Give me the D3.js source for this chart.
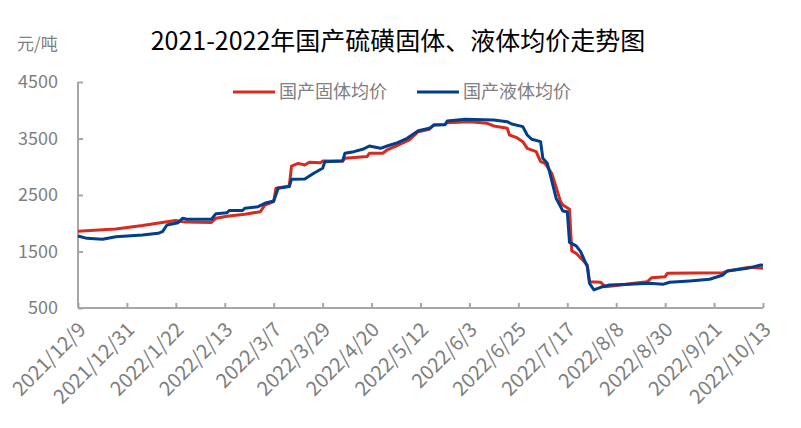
<!DOCTYPE html>
<html>
<head>
<meta charset="utf-8">
<script src="https://cdn.jsdelivr.net/npm/d3@7"></script>
<style>
  body { margin: 0; background: #fff; }
  svg { display: block; }
  text { font-family: "Noto Sans CJK SC", "Noto Sans", sans-serif; }
</style>
</head>
<body>
<svg id="chart" width="801" height="428"></svg>
<script>
const titleText = "2021-2022年国产硫磺固体、液体均价走势图";
const unitText = "元/吨";
const seriesNames = ["国产固体均价", "国产液体均价"];
const seriesColors = ["#d62b1f", "#023f8b"];

const xTickLabels = ["2021/12/9","2021/12/31","2022/1/22","2022/2/13","2022/3/7","2022/3/29","2022/4/20","2022/5/12","2022/6/3","2022/6/25","2022/7/17","2022/8/8","2022/8/30","2022/9/21","2022/10/13"];
const yTicks = [500, 1500, 2500, 3500, 4500];

// 国产固体均价 (solid)
const solidDates = ["2021-12-09","2021-12-22","2021-12-26","2022-01-07","2022-01-18","2022-01-22","2022-01-26","2022-02-07","2022-02-09","2022-02-14","2022-02-22","2022-03-01","2022-03-03","2022-03-07","2022-03-08","2022-03-14","2022-03-15","2022-03-18","2022-03-21","2022-03-23","2022-03-28","2022-03-29","2022-04-07","2022-04-08","2022-04-18","2022-04-19","2022-04-25","2022-04-27","2022-05-01","2022-05-07","2022-05-11","2022-05-16","2022-05-18","2022-05-23","2022-05-24","2022-06-03","2022-06-11","2022-06-14","2022-06-20","2022-06-21","2022-06-24","2022-06-27","2022-06-29","2022-07-03","2022-07-05","2022-07-07","2022-07-10","2022-07-14","2022-07-15","2022-07-18","2022-07-19","2022-07-21","2022-07-26","2022-07-27","2022-08-01","2022-08-03","2022-08-10","2022-08-16","2022-08-22","2022-08-24","2022-08-30","2022-08-31","2022-09-25","2022-09-27","2022-10-07","2022-10-13"];
const solidValues = [1860,1890,1900,1960,2025,2050,2020,2015,2090,2125,2160,2205,2320,2385,2620,2660,3010,3060,3030,3078,3072,3100,3100,3150,3180,3238,3238,3297,3367,3474,3621,3663,3739,3750,3780,3798,3769,3721,3680,3562,3521,3444,3326,3267,3090,3061,2884,2382,2323,2247,1510,1468,1260,966,955,878,907,937,966,1037,1055,1114,1125,1155,1220,1202];

// 国产液体均价 (liquid)
const liquidDates = ["2021-12-09","2021-12-13","2021-12-20","2021-12-26","2022-01-07","2022-01-14","2022-01-16","2022-01-18","2022-01-23","2022-01-25","2022-01-27","2022-02-07","2022-02-09","2022-02-14","2022-02-15","2022-02-21","2022-02-22","2022-02-28","2022-03-03","2022-03-07","2022-03-09","2022-03-14","2022-03-15","2022-03-21","2022-03-25","2022-03-29","2022-03-30","2022-04-07","2022-04-08","2022-04-12","2022-04-16","2022-04-19","2022-04-24","2022-04-27","2022-05-01","2022-05-06","2022-05-11","2022-05-16","2022-05-18","2022-05-23","2022-05-24","2022-06-01","2022-06-14","2022-06-20","2022-06-22","2022-06-27","2022-06-29","2022-07-01","2022-07-05","2022-07-06","2022-07-08","2022-07-09","2022-07-12","2022-07-14","2022-07-15","2022-07-17","2022-07-18","2022-07-21","2022-07-23","2022-07-24","2022-07-26","2022-07-27","2022-07-29","2022-08-01","2022-08-05","2022-08-14","2022-08-23","2022-08-29","2022-09-01","2022-09-10","2022-09-19","2022-09-25","2022-09-27","2022-10-06","2022-10-12","2022-10-13"];
const liquidValues = [1774,1733,1716,1762,1792,1822,1851,1969,2010,2087,2070,2070,2170,2187,2225,2225,2265,2293,2353,2394,2619,2648,2778,2783,2884,2973,3090,3102,3238,3267,3309,3367,3326,3367,3415,3503,3638,3680,3739,3745,3810,3840,3828,3798,3757,3710,3562,3486,3444,3150,3061,2913,2441,2293,2217,2205,1660,1600,1497,1408,1231,937,819,866,907,919,937,919,955,978,1008,1084,1155,1202,1261,1255];

const parse = d3.timeParse("%Y-%m-%d");
const parseTick = d3.timeParse("%Y/%m/%d");

const svg = d3.select("#chart");

const x = d3.scaleTime()
  .domain([parse("2021-12-09"), parse("2022-10-13")])
  .range([78, 763]);
const y = d3.scaleLinear().domain([500, 4500]).range([308, 82]);

const axisColor = "#a6a6a6";
const labelColor = "#808080";

// Title
svg.append("text")
  .attr("x", 398).attr("y", 50)
  .attr("text-anchor", "middle")
  .attr("font-size", 25)
  .attr("fill", "#000")
  .text(titleText);

// Unit
svg.append("text")
  .attr("x", 17).attr("y", 50)
  .attr("font-size", 17)
  .attr("fill", labelColor)
  .text(unitText);

// Y axis
const yAxis = svg.append("g")
  .attr("transform", "translate(78,0)")
  .call(d3.axisRight(y).tickValues(yTicks).tickSize(5).tickFormat(""));
yAxis.select(".domain").attr("stroke", axisColor).attr("stroke-width", 2)
  .attr("d", `M0,${y(4500)}V${y(500)}`);
yAxis.selectAll(".tick line").attr("stroke", axisColor).attr("stroke-width", 2);

svg.append("g").selectAll("text").data(yTicks).join("text")
  .attr("x", 58).attr("y", d => y(d))
  .attr("dy", "0.35em")
  .attr("text-anchor", "end")
  .attr("font-size", 18)
  .attr("fill", labelColor)
  .text(d => d);

// X axis
const tickDates = xTickLabels.map(s => parseTick(s));
const xAxis = svg.append("g")
  .attr("transform", "translate(0,308)")
  .call(d3.axisTop(x).tickValues(tickDates).tickSize(5).tickFormat(""));
xAxis.select(".domain").attr("stroke", axisColor).attr("stroke-width", 2)
  .attr("d", `M${x.range()[0]},0H${x.range()[1]}`);
xAxis.selectAll(".tick line").attr("stroke", axisColor).attr("stroke-width", 2);

svg.append("g").selectAll("text").data(xTickLabels).join("text")
  .attr("transform", (d) => `translate(${x(parseTick(d)) + 9},${331}) rotate(-45)`)
  .attr("text-anchor", "end")
  .attr("font-size", 20)
  .attr("fill", labelColor)
  .text(d => d);

// Lines
const line = d3.line().x(d => x(d.date)).y(d => y(d.value));
const solid = solidDates.map((d, i) => ({ date: parse(d), value: solidValues[i] }));
const liquid = liquidDates.map((d, i) => ({ date: parse(d), value: liquidValues[i] }));

svg.append("path").datum(solid)
  .attr("d", line).attr("fill", "none")
  .attr("stroke", seriesColors[0]).attr("stroke-width", 3)
  .attr("stroke-linejoin", "round");
svg.append("path").datum(liquid)
  .attr("d", line).attr("fill", "none")
  .attr("stroke", seriesColors[1]).attr("stroke-width", 3)
  .attr("stroke-linejoin", "round");

// Legend
const legend = [{ x: 233, name: seriesNames[0], color: seriesColors[0] }, { x: 417, name: seriesNames[1], color: seriesColors[1] }];
legend.forEach(l => {
  svg.append("line").attr("x1", l.x).attr("x2", l.x + 42)
    .attr("y1", 92).attr("y2", 92)
    .attr("stroke", l.color).attr("stroke-width", 3);
  svg.append("text").attr("x", l.x + 46).attr("y", 92)
    .attr("dy", "0.36em")
    .attr("font-size", 18).attr("fill", labelColor)
    .text(l.name);
});
</script>
</body>
</html>
